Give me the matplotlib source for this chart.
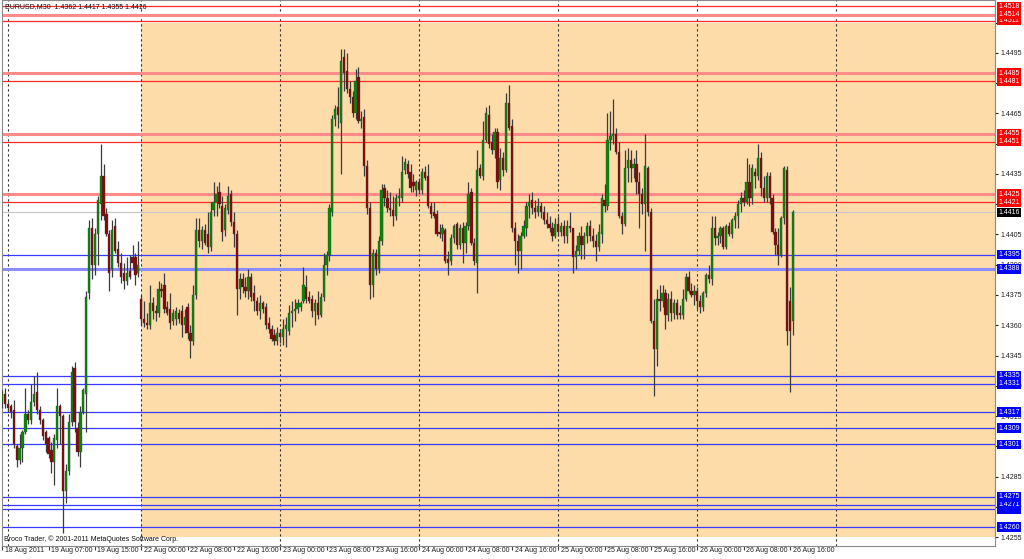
import numpy as np
import pandas as pd
import matplotlib
matplotlib.use("Agg")
import matplotlib.pyplot as plt
from matplotlib.patches import Rectangle
from matplotlib.transforms import blended_transform_factory

# EURUSD M30 bars, prices given in pips above 1.4000
BASE = 1.4

open_pips = [
    # 18-19 Aug
    322, 326, 321, 320, 318, 300, 293, 299, 307, 316, 313, 322, 327, 318, 313, 307,
    304, 298, 292, 303, 320, 315, 278, 288, 312, 339, 309, 297, 317, 326, 376, 408,
    390, 405, 420, 434, 415, 405, 388, 409, 398, 391, 386, 382, 387, 394, 394, 386,
    # 22 Aug
    373, 363, 361, 360, 371, 367, 366, 378, 380, 369, 368, 362, 363, 366, 367, 360,
    369, 356, 352, 375, 407, 402, 407, 405, 399, 417, 421, 426, 419, 407, 417, 425,
    411, 405, 378, 383, 379, 377, 384, 376, 372, 367, 371, 369, 361, 358, 355, 352,
    # 23 Aug
    356, 354, 358, 357, 366, 367, 368, 369, 372, 379, 374, 373, 367, 371, 365, 374,
    390, 395, 416, 462, 468, 460, 493, 486, 477, 473, 465, 483, 461, 463, 439, 418,
    380, 396, 388, 402, 428, 423, 418, 417, 414, 423, 423, 437, 440, 436, 431, 427,
    # 24 Aug
    431, 427, 436, 434, 419, 416, 415, 406, 405, 407, 393, 392, 403, 410, 400, 408,
    401, 409, 426, 401, 391, 438, 434, 452, 464, 451, 447, 456, 432, 443, 437, 470,
    459, 408, 402, 397, 404, 408, 419, 422, 418, 416, 419, 416, 412, 410, 408, 404,
    # 25 Aug
    410, 406, 409, 404, 409, 408, 394, 397, 404, 400, 404, 409, 404, 402, 399, 405,
    422, 419, 452, 454, 455, 446, 414, 410, 438, 442, 438, 440, 431, 425, 420, 438,
    416, 362, 348, 373, 372, 376, 365, 373, 366, 371, 366, 365, 373, 384, 377, 375,
    # 26 Aug
    377, 372, 369, 376, 385, 383, 408, 403, 404, 408, 399, 409, 405, 412, 414, 420,
    423, 421, 431, 423, 436, 434, 443, 428, 423, 434, 423, 406, 400, 395, 413, 437,
    372, 362,
]
high_pips = [
    328, 329, 323, 321, 323, 301, 306, 308, 329, 318, 331, 335, 337, 320, 314, 308,
    305, 302, 306, 329, 321, 316, 291, 316, 340, 342, 312, 320, 329, 377, 412, 413,
    408, 424, 450, 440, 418, 407, 412, 413, 402, 396, 391, 394, 395, 400, 396, 402,
    375, 372, 366, 380, 374, 370, 382, 381, 386, 372, 376, 368, 369, 368, 370, 368,
    371, 360, 380, 413, 413, 409, 410, 416, 421, 431, 429, 431, 424, 420, 429, 427,
    416, 407, 386, 386, 384, 388, 386, 380, 374, 375, 372, 371, 364, 360, 358, 359,
    358, 363, 364, 370, 372, 373, 373, 372, 389, 385, 377, 375, 373, 377, 376, 396,
    397, 420, 464, 469, 478, 497, 497, 495, 481, 476, 487, 488, 466, 467, 442, 421,
    398, 398, 404, 430, 430, 427, 426, 424, 425, 428, 444, 443, 442, 440, 435, 432,
    433, 438, 439, 440, 421, 421, 417, 410, 410, 408, 397, 405, 410, 411, 410, 411,
    411, 431, 428, 403, 447, 440, 461, 468, 469, 455, 458, 458, 448, 446, 475, 479,
    462, 411, 405, 406, 412, 421, 425, 426, 422, 423, 421, 419, 416, 414, 411, 413,
    414, 411, 412, 412, 416, 408, 400, 406, 409, 406, 411, 412, 408, 405, 410, 425,
    430, 465, 466, 472, 458, 451, 416, 447, 448, 447, 443, 447, 436, 428, 455, 439,
    418, 373, 378, 380, 380, 378, 376, 377, 373, 373, 370, 378, 386, 387, 381, 380,
    379, 375, 377, 386, 390, 414, 414, 406, 409, 409, 410, 411, 413, 416, 422, 426,
    427, 443, 440, 440, 438, 450, 446, 434, 436, 436, 425, 408, 408, 414, 439, 439,
    379, 417,
]
low_pips = [
    319, 319, 317, 314, 299, 290, 291, 292, 306, 311, 311, 320, 316, 311, 303, 297,
    294, 287, 281, 299, 301, 257, 272, 286, 310, 307, 295, 290, 316, 307, 373, 383,
    385, 390, 412, 412, 404, 377, 384, 396, 389, 381, 378, 380, 383, 388, 380, 384,
    360, 359, 358, 358, 363, 362, 364, 374, 366, 365, 358, 360, 360, 361, 354, 356,
    353, 344, 350, 373, 399, 398, 400, 396, 397, 414, 414, 418, 402, 404, 415, 409,
    399, 365, 373, 376, 374, 373, 372, 367, 365, 363, 366, 358, 356, 352, 350, 350,
    351, 350, 349, 355, 359, 362, 366, 367, 371, 371, 371, 364, 360, 363, 364, 372,
    385, 392, 414, 459, 458, 435, 476, 475, 470, 463, 462, 460, 458, 434, 415, 373,
    374, 385, 386, 400, 419, 416, 414, 409, 412, 419, 421, 435, 433, 426, 426, 424,
    425, 425, 432, 418, 413, 413, 404, 403, 402, 391, 385, 390, 401, 398, 398, 391,
    396, 407, 400, 390, 376, 433, 432, 451, 448, 445, 443, 428, 427, 434, 436, 457,
    406, 390, 386, 388, 403, 404, 413, 415, 413, 414, 413, 410, 408, 406, 402, 403,
    404, 404, 401, 401, 406, 386, 388, 395, 393, 393, 401, 402, 399, 392, 397, 401,
    416, 417, 447, 450, 445, 413, 405, 409, 431, 431, 433, 425, 408, 415, 397, 414,
    361, 325, 340, 367, 369, 358, 362, 362, 363, 363, 363, 363, 372, 376, 374, 370,
    368, 366, 367, 374, 381, 380, 400, 400, 401, 398, 398, 404, 403, 408, 408, 416,
    419, 420, 419, 420, 428, 432, 424, 421, 421, 420, 405, 395, 390, 394, 410, 350,
    327, 355,
]
close_pips = [
    326, 321, 319, 317, 301, 293, 299, 307, 316, 313, 322, 326, 318, 313, 305, 301,
    296, 292, 304, 320, 315, 278, 288, 312, 337, 312, 297, 317, 328, 374, 408, 390,
    405, 422, 434, 414, 405, 386, 407, 397, 391, 384, 382, 386, 384, 391, 385, 390,
    363, 361, 360, 371, 367, 366, 378, 377, 368, 366, 361, 366, 367, 363, 360, 364,
    356, 352, 375, 407, 402, 407, 401, 399, 416, 421, 425, 420, 406, 418, 424, 411,
    405, 378, 383, 379, 377, 384, 374, 372, 367, 371, 368, 360, 358, 353, 352, 356,
    354, 358, 360, 366, 367, 368, 371, 371, 380, 373, 372, 367, 371, 365, 374, 390,
    395, 418, 462, 467, 464, 491, 485, 477, 473, 465, 481, 461, 462, 439, 418, 380,
    396, 388, 402, 427, 423, 418, 417, 414, 423, 424, 436, 441, 435, 428, 429, 431,
    427, 436, 433, 419, 415, 414, 405, 405, 408, 392, 391, 403, 409, 400, 408, 401,
    409, 425, 401, 392, 437, 434, 452, 465, 450, 447, 456, 431, 443, 437, 470, 458,
    408, 402, 397, 404, 409, 419, 421, 418, 416, 419, 416, 412, 410, 408, 404, 410,
    406, 409, 404, 409, 408, 394, 397, 404, 400, 404, 409, 404, 402, 399, 406, 423,
    419, 452, 454, 455, 446, 414, 410, 438, 442, 438, 440, 431, 425, 420, 439, 416,
    362, 348, 373, 372, 376, 365, 373, 366, 371, 365, 365, 373, 384, 377, 375, 377,
    372, 369, 376, 385, 383, 408, 403, 404, 408, 399, 409, 405, 412, 414, 420, 423,
    421, 431, 423, 438, 434, 443, 428, 423, 434, 423, 406, 400, 395, 413, 438, 357,
    357, 416,
]

# trading sessions of the 30 minute bars (weekend skipped)
bar_times = (pd.date_range("2011-08-18 23:00", "2011-08-18 23:30", freq="30min")
             .append(pd.date_range("2011-08-19 00:00", "2011-08-19 22:30", freq="30min"))
             .append(pd.date_range("2011-08-22 00:00", "2011-08-25 23:30", freq="30min"))
             .append(pd.date_range("2011-08-26 00:00", "2011-08-26 16:30", freq="30min")))

tick_times = ["2011-08-18 23:00", "2011-08-19 07:00", "2011-08-19 15:00",
              "2011-08-22 00:00", "2011-08-22 08:00", "2011-08-22 16:00",
              "2011-08-23 00:00", "2011-08-23 08:00", "2011-08-23 16:00",
              "2011-08-24 00:00", "2011-08-24 08:00", "2011-08-24 16:00",
              "2011-08-25 00:00", "2011-08-25 08:00", "2011-08-25 16:00",
              "2011-08-26 00:00", "2011-08-26 08:00", "2011-08-26 16:00"]
day_starts = ["2011-08-19", "2011-08-22", "2011-08-23", "2011-08-24",
              "2011-08-25", "2011-08-26", "2011-08-27"]

red_levels = [1.4518, 1.4514, 1.4511, 1.4485, 1.4481, 1.4455, 1.4451, 1.4425, 1.4421]
blue_levels = [1.4395, 1.4388, 1.4335, 1.4331, 1.4317, 1.4309, 1.4301,
               1.4275, 1.4271, 1.4269, 1.4260]
zone_start = "2011-08-22 00:00"
zone_low, zone_high = 1.4255, 1.4510

title = "EURUSD,M30  1.4362 1.4417 1.4355 1.4416"
footer = "Broco Trader, \u00a9 2001-2011 MetaQuotes Software Corp."

o = BASE + np.array(open_pips) / 10000
h = BASE + np.array(high_pips) / 10000
l = BASE + np.array(low_pips) / 10000
c = BASE + np.array(close_pips) / 10000
x = np.arange(len(bar_times))
step = pd.Timedelta("30min")


def bar_index(t):
    t = pd.Timestamp(t)
    if t > bar_times[-1]:
        return len(bar_times) - 1 + (t - bar_times[-1]) / step
    return bar_times.get_loc(t)


plt.rcParams["font.family"] = ["Liberation Sans", "DejaVu Sans"]
fig = plt.figure(figsize=(10.24, 5.59), dpi=100)
ax = fig.add_axes([2 / 1024, 13 / 559, 993 / 1024, 546 / 559])
ax.set_xlim(-0.07, 342.8)
ax.set_ylim(1.42506, 1.45212)

# background zone
zx = bar_index(zone_start)
ax.add_patch(Rectangle((zx, zone_low), 400, zone_high - zone_low,
                       facecolor="#FEDCAA", edgecolor="none", zorder=0))

# day separators
for d in day_starts:
    ax.axvline(bar_index(d), color="#303030", lw=0.8, ls=(0, (2, 2.5)), zorder=1)

# support / resistance lines
wide = {1.4514, 1.4485, 1.4455, 1.4425, 1.4388}
for lv in red_levels:
    if lv in wide:
        ax.axhline(lv, color="#FF8A8A", lw=2.2, zorder=2)
    else:
        ax.axhline(lv, color="#FF2A2A", lw=0.9, zorder=2)
for lv in blue_levels:
    if lv in wide:
        ax.axhline(lv, color="#8C8CFF", lw=2.2, zorder=2)
    else:
        ax.axhline(lv, color="#3A3AFF", lw=0.9, zorder=2)
ax.axhline(c[-1], color="#C8C8C8", lw=0.9, zorder=2)

# candles
up = c >= o
ax.vlines(x, l, h, color="#3C3C3C", lw=0.9, zorder=3)
ax.bar(x, np.abs(c - o), bottom=np.minimum(o, c), width=0.78,
       color=np.where(up, "#068A06", "#860808"), edgecolor="#3C3C3C",
       linewidth=0.25, zorder=4)

# axes styling
for s in ax.spines.values():
    s.set_color("#8A8A8A")
    s.set_linewidth(0.8)
ax.set_facecolor("white")
ax.yaxis.tick_right()
yt = np.round(np.arange(1.4255, 1.4511, 0.0015), 4)
ax.set_yticks(yt)
ax.set_yticklabels([f"{v:.4f}" for v in yt])
ax.tick_params(axis="y", labelsize=5, length=2, pad=2, colors="#202020")

xt = [bar_index(t) for t in tick_times]
ax.set_xticks(xt)
ax.set_xticklabels([])
ax.tick_params(axis="x", length=3, color="#404040")
xlab = blended_transform_factory(ax.transData, fig.transFigure)
for i, t in enumerate(tick_times):
    ts = pd.Timestamp(t)
    txt = ts.strftime("%d %b %Y") if i == 0 else ts.strftime("%d %b %H:%M")
    ax.text(xt[i] + 0.9, 1 - 551 / 559, txt, transform=xlab, fontsize=5,
            ha="left", va="center", color="#202020", clip_on=False)

# price labels on the right scale
lab = blended_transform_factory(fig.transFigure, ax.transData)
levels = [(lv, "#FF0000") for lv in red_levels] + [(lv, "#0000FF") for lv in blue_levels]
levels.append((round(c[-1], 4), "#000000"))
for n, (lv, col) in enumerate(sorted(levels)):
    ax.text(998.5 / 1024, lv, f"{lv:.4f}", transform=lab, fontsize=5, color="white",
            ha="left", va="center", clip_on=False, zorder=10 + n,
            bbox=dict(facecolor=col, edgecolor="none", pad=0.9))

fig.text(5 / 1024, 1 - 7 / 559, title, fontsize=5, va="center", color="#101010")
fig.text(4 / 1024, 1 - 539 / 559, footer, fontsize=5, va="center", color="#101010")

fig.savefig("out.png", dpi=100)
